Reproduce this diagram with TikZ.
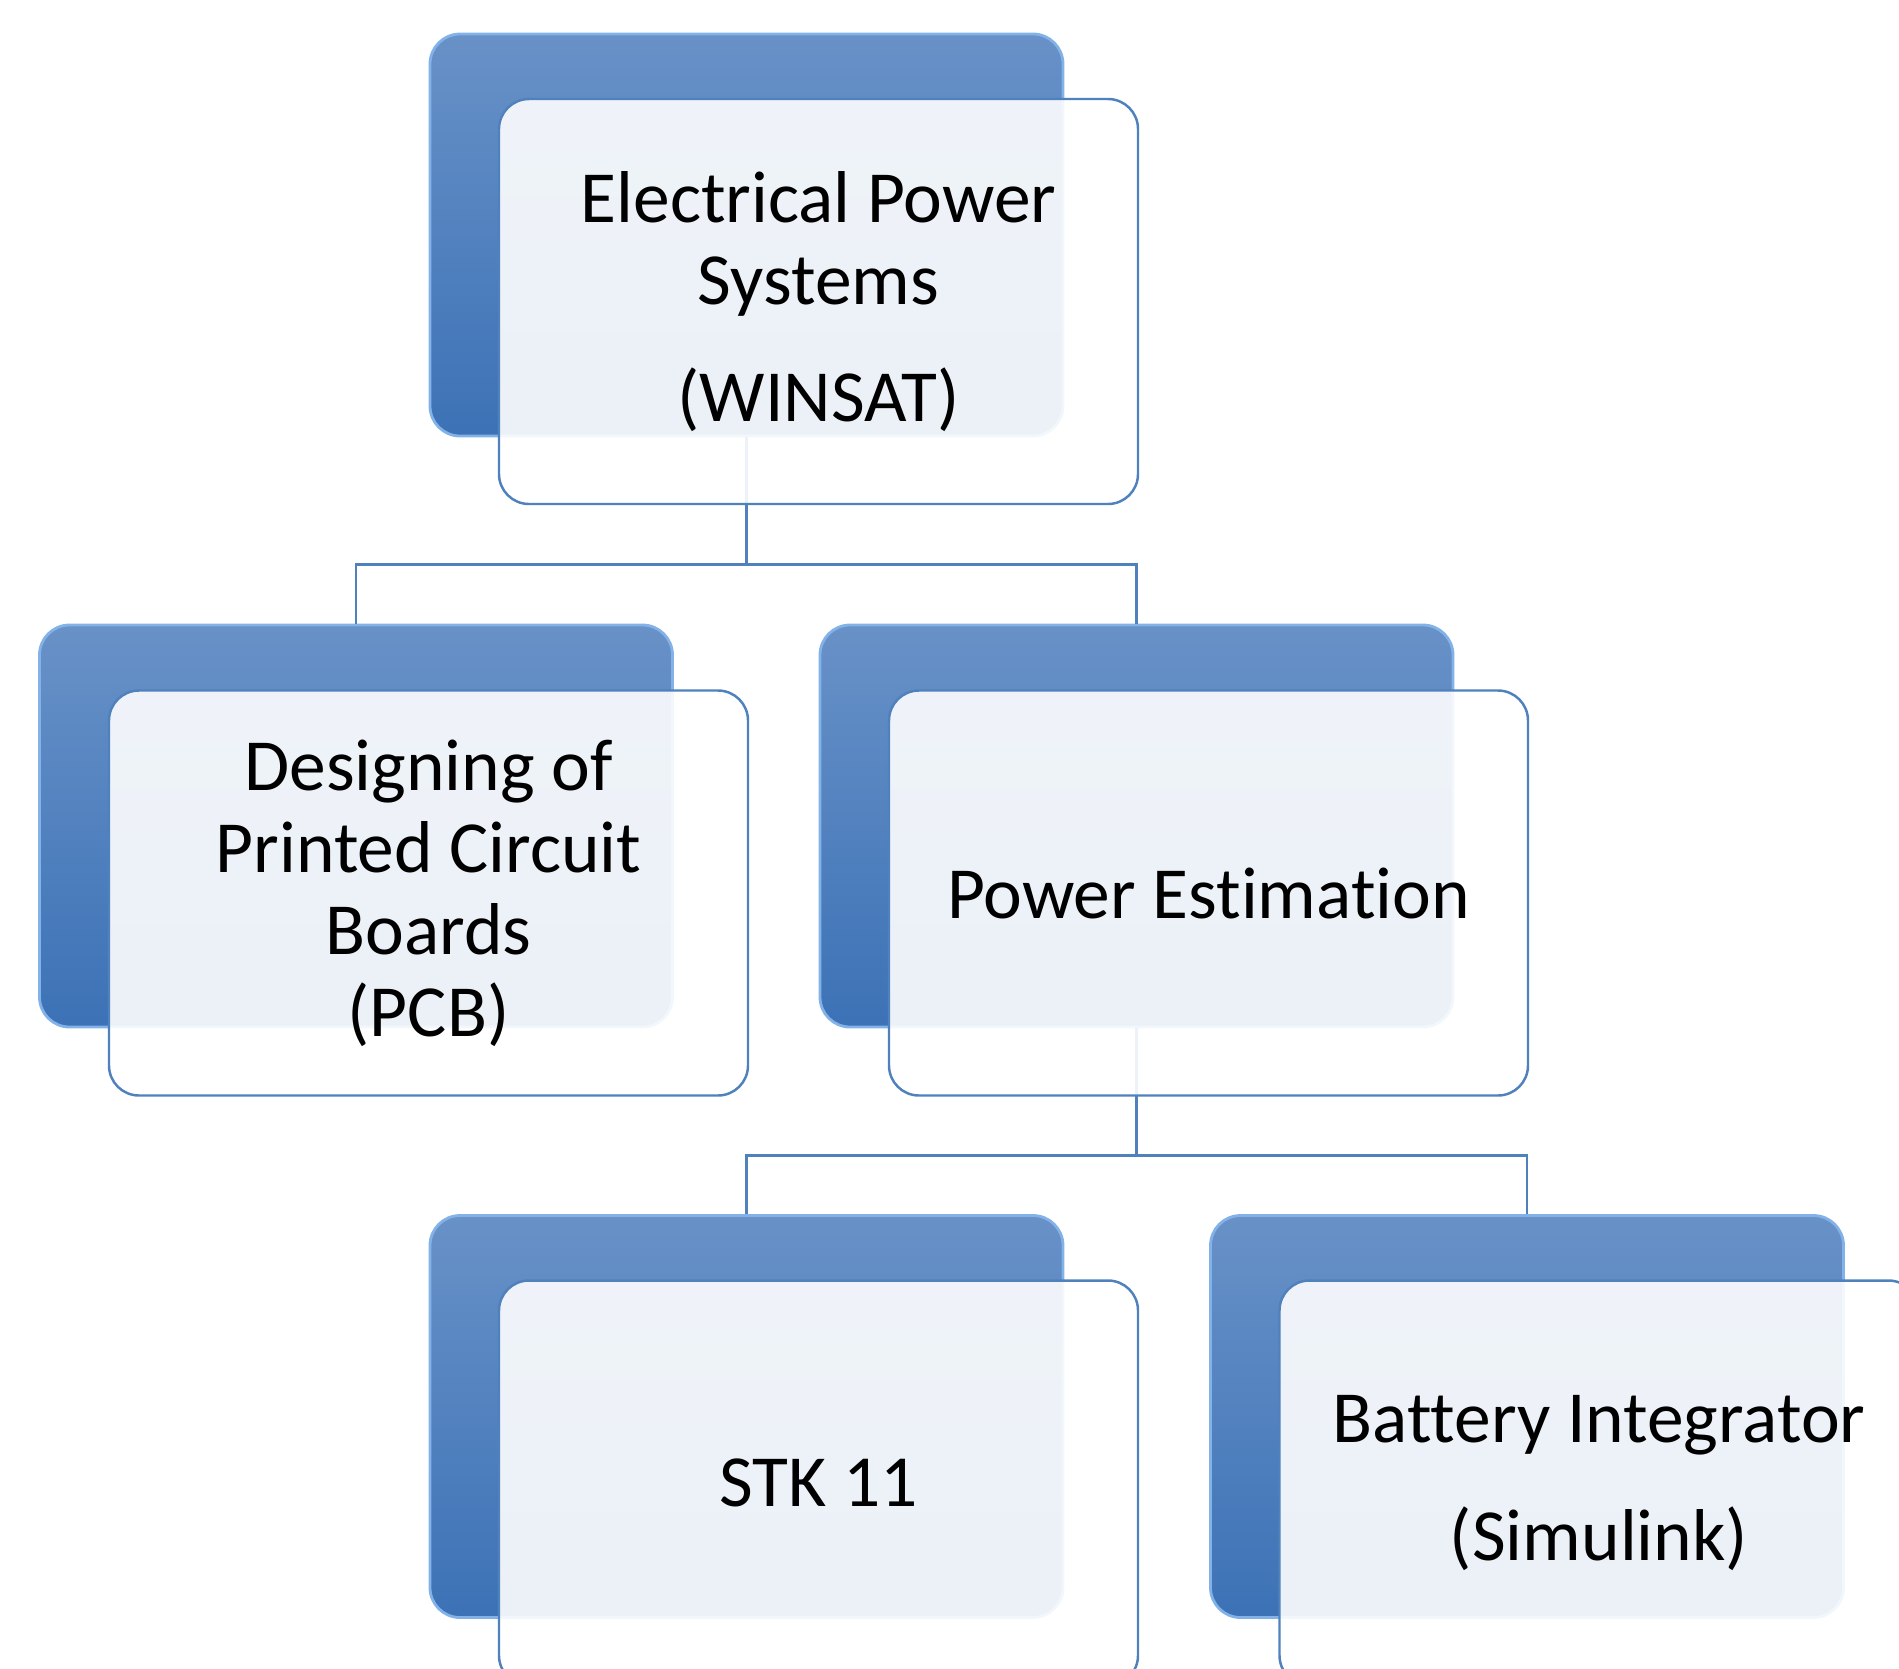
\documentclass[tikz,border=0pt]{standalone}
\usepackage{fontspec}
\setmainfont{Carlito}[Ligatures=NoCommon]
\usetikzlibrary{positioning}
\definecolor{boxblue}{RGB}{79,129,189}
\definecolor{boxtop}{RGB}{104,145,199}
\definecolor{boxbot}{RGB}{60,114,182}
\definecolor{boxedge}{RGB}{130,178,232}

\begin{document}
\begin{tikzpicture}[
    back/.style={rectangle, rounded corners=0.3cm, draw=boxedge, line width=0.8pt,
      top color=boxtop, bottom color=boxbot, minimum width=6.33cm, minimum height=4.02cm},
    front/.style={rectangle, rounded corners=0.3cm, draw=boxblue, line width=0.7pt,
      fill=white, fill opacity=0.9, text opacity=1, minimum width=6.39cm, minimum height=4.05cm,
      align=center, font=\fontsize{20.9}{23.3}\selectfont},
    link/.style={draw=boxblue, line width=0.7pt},
  ]
    \clip (0,0) rectangle (18.99,-16.68);
    \node[back] (epsb) at (7.465,-2.35)   {};
    \node[back] (pcbb) at (3.56,-8.26)    {};
    \node[back] (pwrb) at (11.365,-8.26)  {};
    \node[back] (stkb) at (7.465,-14.165) {};
    \node[back] (batb) at (15.27,-14.165) {};
    \draw[link] (epsb.south) -- ++(0,-1.27) -| (pcbb.north);
    \draw[link] (epsb.south) -- ++(0,-1.27) -| (pwrb.north);
    \draw[link] (pwrb.south) -- ++(0,-1.27) -| (stkb.north);
    \draw[link] (pwrb.south) -- ++(0,-1.27) -| (batb.north);
    \node[front] (eps) at (8.185,-3.015) {Electrical Power\\Systems\\[10pt](WINSAT)};
    \node[front] (pcb) at (4.285,-8.93)  {Designing of\\Printed Circuit\\Boards\\(PCB)};
    \node[front] (pwr) at (12.085,-8.93) {Power Estimation};
    \node[front] (stk) at (8.185,-14.83) {STK 11};
    \node[front] (bat) at (15.99,-14.83) {Battery Integrator\\[10pt](Simulink)};
  \end{tikzpicture}
\end{document}
